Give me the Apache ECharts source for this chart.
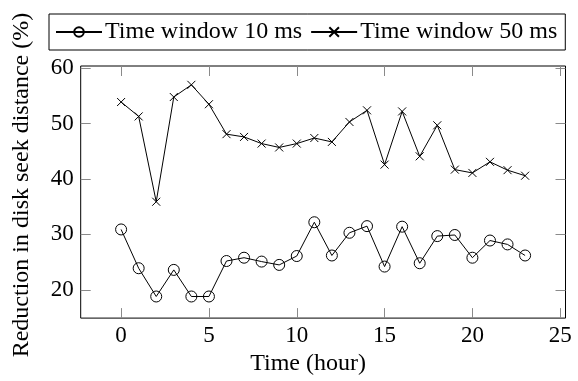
<!DOCTYPE html>
<html><head><meta charset="utf-8">
<script src="https://cdn.jsdelivr.net/npm/echarts@6/dist/echarts.min.js"></script>
<style>html,body{margin:0;padding:0;background:#fff}#c{width:578px;height:381px}</style>
</head><body><div id="c"></div>
<script>
const hours = [0,1,2,3,4,5,6,7,8,9,10,11,12,13,14,15,16,17,18,19,20,21,22,23];
const win10 = [30.9,23.9,18.8,23.6,18.8,18.8,25.2,25.8,25.1,24.5,26.1,32.2,26.2,30.3,31.5,24.2,31.4,24.8,29.7,29.9,25.8,28.9,28.2,26.2];
const win50 = [53.9,51.3,35.9,54.8,57.0,53.5,48.1,47.6,46.4,45.7,46.4,47.4,46.7,50.3,52.4,42.6,52.2,44.1,49.7,41.7,41.1,43.1,41.6,40.6];
const xTicks = [0,5,10,15,20,25];
const yTicks = [20,30,40,50,60];
const seriesNames = ['Time window 10 ms','Time window 50 ms'];
const xTitle = 'Time (hour)';
const yTitle = 'Reduction in disk seek distance (%)';

const font = 'Liberation Serif';
const fs = 23, fsT = 24;
const xmin = -2.3, xmax = 25.3, ymin = 14.9, ymax = 60.4;
const tickStyle = {lineStyle:{color:'#8a8a8a',width:1}};
function xa(pos, main){
  return {type:'value', position:pos, min:xmin, max:xmax, splitLine:{show:false},
    axisLine:{show:false, onZero:false},
    axisTick:{show:true, inside:true, length:10, customValues:xTicks, ...tickStyle},
    axisLabel:{show:main, customValues:xTicks, color:'#000', fontFamily:font, fontSize:fs, margin:6},
    name: main?xTitle:'', nameLocation:'middle', nameGap:32,
    nameTextStyle:{color:'#000', fontFamily:font, fontSize:fsT, padding:[0,30,0,0]}};
}
function ya(pos, main){
  return {type:'value', position:pos, min:ymin, max:ymax, splitLine:{show:false},
    axisLine:{show:false, onZero:false},
    axisTick:{show:true, inside:true, length:10, customValues:yTicks, ...tickStyle},
    axisLabel:{show:main, customValues:yTicks, color:'#000', fontFamily:font, fontSize:fs, margin:7},
    name: main?yTitle:'', nameLocation:'middle', nameGap:47,
    nameTextStyle:{color:'#000', fontFamily:font, fontSize:fsT, padding:[0,0,0,14]}};
}
const chart = echarts.init(document.getElementById('c'), null, {renderer:'canvas'});
chart.setOption({
  animation:false,
  grid:{left:80.7, right:12.5, top:66, bottom:57, show:true, borderColor:'#000', borderWidth:1, backgroundColor:'transparent'},
  legend:{left:49, top:14, padding:[6,8,6,6], itemGap:8, itemWidth:46, itemHeight:12,
    borderColor:'#000', borderWidth:1,
    textStyle:{color:'#000', fontFamily:font, fontSize:fsT, padding:[0,0,0,-2]},
    data:seriesNames},
  xAxis:[xa('bottom',true), xa('top',false)],
  yAxis:[ya('left',true), ya('right',false)],
  series:[
    {name:seriesNames[0], type:'line', data:hours.map((h,i)=>[h,win10[i]]),
      symbol:'circle', symbolSize:11, showAllSymbol:true,
      itemStyle:{color:'rgba(0,0,0,0)', borderColor:'#000', borderWidth:1},
      lineStyle:{color:'#000', width:1}},
    {name:seriesNames[1], type:'line', data:hours.map((h,i)=>[h,win50[i]]),
      symbol:'path://M0 0L10 10M10 0L0 10', symbolSize:8, showAllSymbol:true,
      itemStyle:{color:'#000', borderColor:'#000', borderWidth:1},
      lineStyle:{color:'#000', width:1}}
  ]
});
</script></body></html>
